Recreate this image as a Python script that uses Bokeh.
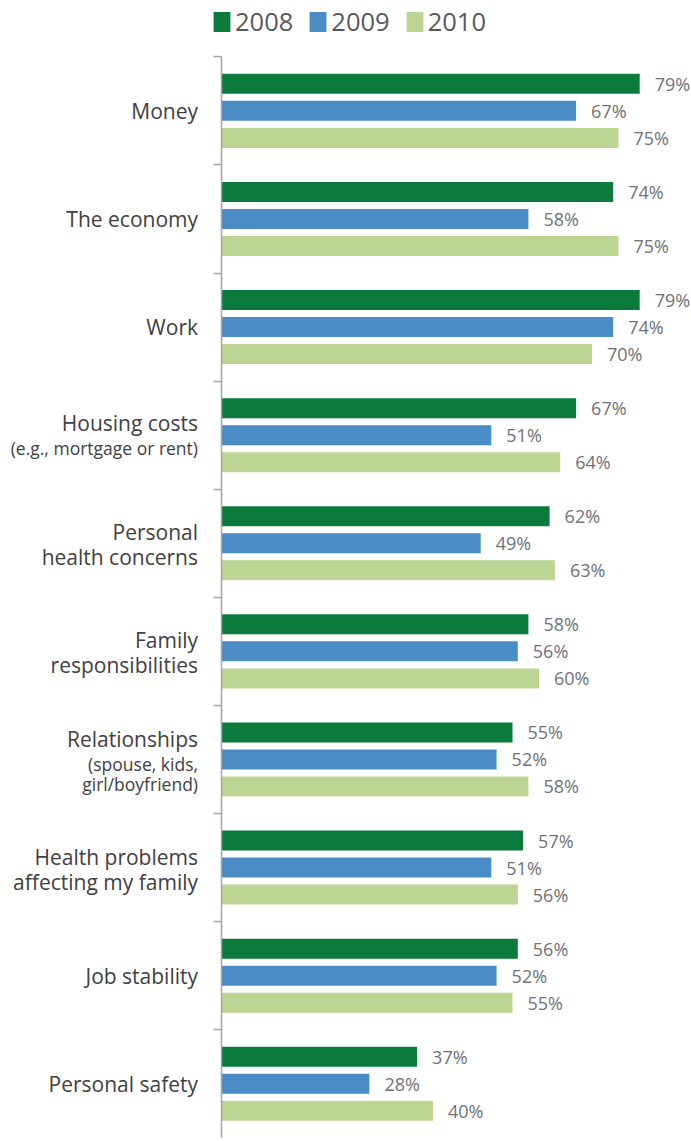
from bokeh.plotting import figure
from bokeh.models import (ColumnDataSource, Range1d, LinearAxis, FixedTicker,
                          Legend, LegendItem)
from bokeh.core.properties import value
from bokeh.embed import file_html
from bokeh.resources import INLINE

# ---- data -------------------------------------------------------------
categories = ["Money", "The economy", "Work", "Housing costs",
              "Personal health concerns", "Family responsibilities",
              "Relationships", "Health problems affecting my family",
              "Job stability", "Personal safety"]
label_lines = [["Money"], ["The economy"], ["Work"], ["Housing costs"],
               ["Personal", "health concerns"], ["Family", "responsibilities"],
               ["Relationships"], ["Health problems", "affecting my family"],
               ["Job stability"], ["Personal safety"]]
note_lines = [[], [], [], ["(e.g., mortgage or rent)"], [], [],
              ["(spouse, kids,", "girl/boyfriend)"], [], [], []]
years = ["2008", "2009", "2010"]
v2008 = [79, 74, 79, 67, 62, 58, 55, 57, 56, 37]
v2009 = [67, 58, 74, 51, 49, 56, 52, 51, 52, 28]
v2010 = [75, 75, 70, 64, 63, 60, 58, 56, 55, 40]
series = [v2008, v2009, v2010]
colors = ["#0b7a3d", "#4a8dc5", "#bdd592"]

# ---- figure -----------------------------------------------------------
W, H = 691, 1141
GROUP_PX = 108.1
SCALE = 5.3                  # px per percent
X0_PX = 220.5                # x=0 position inside the frame
TOP_BOUND_PX = 56.3          # first group boundary from top of frame

y_top = -0.5 - TOP_BOUND_PX / GROUP_PX
y_bot = y_top + H / GROUP_PX
x_start = -X0_PX / SCALE
x_end = (W - X0_PX) / SCALE

p = figure(width=W, height=H, output_backend="svg", toolbar_location=None,
           x_range=Range1d(x_start, x_end), y_range=Range1d(y_bot, y_top),
           x_axis_location=None, y_axis_location=None,
           min_border=0, outline_line_color=None, background_fill_color="white")
p.xgrid.visible = False
p.ygrid.visible = False

n = len(categories)
offsets = [-0.25, 0.0, 0.25]
bar_h = 20.0 / GROUP_PX

renderers = []
for k, (vals, col, off) in enumerate(zip(series, colors, offsets)):
    src = ColumnDataSource(dict(
        y=[i + off for i in range(n)],
        v=vals,
        t=[f"{v}%" for v in vals],
    ))
    r = p.hbar(y="y", left=0, right="v", height=bar_h, source=src,
               fill_color=col, line_color=None)
    renderers.append(r)
    p.text(x="v", y="y", text="t", source=src, x_offset=15,
           text_align="left", text_baseline="middle",
           text_font=value("Open Sans"), text_font_size="18px",
           text_color="#707275")

# ---- category labels -------------------------------------------------
lx, ly, lt, lo, ls = [], [], [], [], []
MAIN_SP, NOTE_SP, GAP = 25.0, 20.0, 25.0
for i in range(n):
    mains, notes = label_lines[i], note_lines[i]
    items = []
    pos = 0.0
    for j, t in enumerate(mains):
        if j > 0:
            pos += MAIN_SP
        items.append((t, pos, "21px"))
    for j, t in enumerate(notes):
        pos += GAP if j == 0 else NOTE_SP
        items.append((t, pos, "17.5px"))
    shift = pos / 2.0
    if len(notes) > 1:
        shift -= 2.5
    if len(mains) > 1:
        shift -= 1.5
    for t, ps, fs in items:
        lx.append(0)
        ly.append(i)
        lt.append(t)
        lo.append(ps - shift)
        ls.append(fs)

lab_src = ColumnDataSource(dict(x=lx, y=ly, t=lt, yo=lo, fs=ls))
p.text(x="x", y="y", text="t", source=lab_src, x_offset=-23, y_offset="yo",
       text_align="right", text_baseline="middle",
       text_font=value("Open Sans"), text_font_size="fs",
       text_color="#414042")

# ---- axis at x = 0 ---------------------------------------------------
ticks = [i - 0.5 for i in range(n)]
yax = LinearAxis(fixed_location=0, ticker=FixedTicker(ticks=ticks),
                 bounds=(-0.5, n - 0.5))
yax.axis_line_color = "#a3a5a8"
yax.axis_line_width = 1.5
yax.major_tick_line_color = "#a3a5a8"
yax.major_tick_line_width = 1.5
yax.major_tick_out = 8
yax.major_tick_in = 0
yax.minor_tick_out = 0
yax.minor_tick_in = 0
yax.major_label_overrides = {t: "" for t in ticks}
yax.major_label_standoff = 0
p.add_layout(yax, "left")

# ---- legend ----------------------------------------------------------
legend = Legend(items=[LegendItem(label=y, renderers=[r])
                       for y, r in zip(years, renderers)],
                orientation="horizontal", location=(211, H - 38),
                glyph_width=21, glyph_height=25, label_standoff=3,
                spacing=14, padding=0, margin=0,
                label_text_font="Open Sans", label_text_font_size="25.5px",
                label_text_color="#58595b", border_line_color=None,
                background_fill_alpha=0)
p.add_layout(legend, "center")

open("out.html", "w").write(file_html(p, INLINE))
